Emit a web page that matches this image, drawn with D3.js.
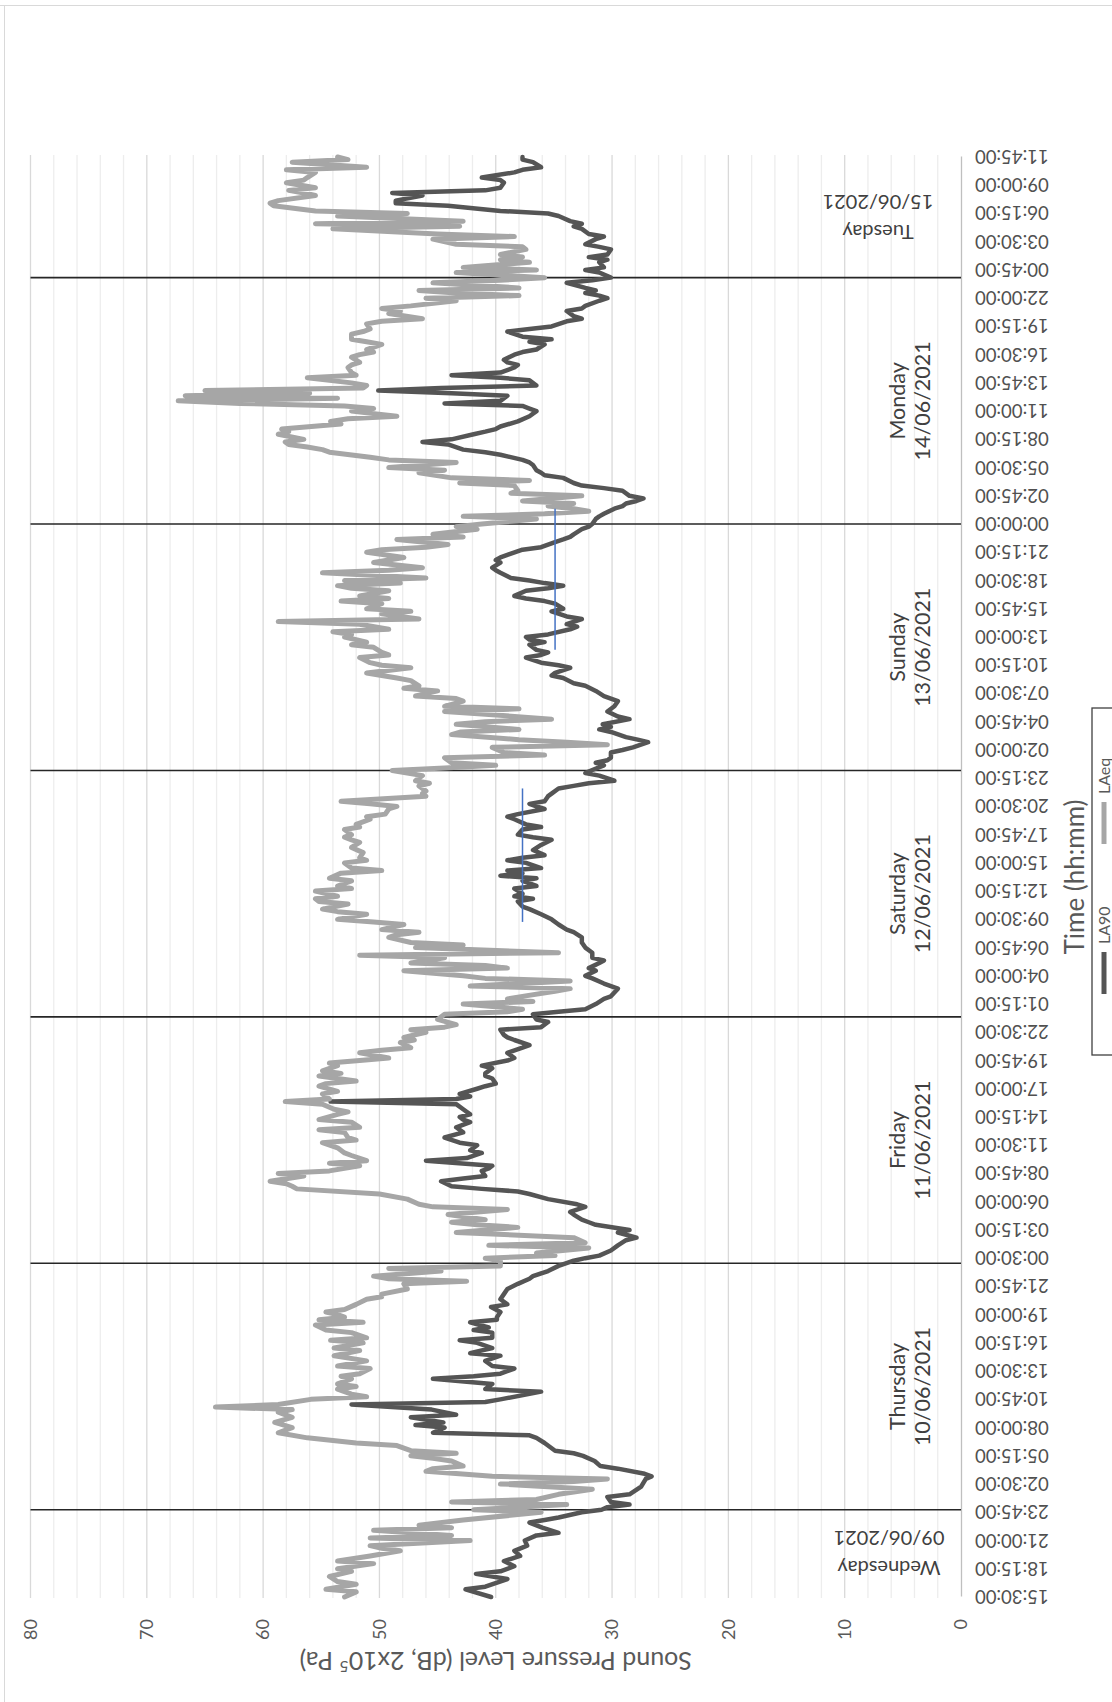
<!DOCTYPE html>
<html>
<head>
<meta charset="utf-8">
<script src="https://cdn.jsdelivr.net/npm/d3@7"></script>
<style>
  body { margin: 0; background: #fff; }
  svg { display: block; }
  text { font-family: Lato, "Liberation Sans", sans-serif; }
</style>
</head>
<body>
<div id="chart"></div>
<script>
//
// Sound level log, 09/06/2021 15:30 to 15/06/2021 11:45, one reading every 15 minutes.
// Readings are [step, dB] where step = number of 15 minute steps from the first reading.
//
const timeLabels = [
  "15:30:00","18:15:00","21:00:00","23:45:00","02:30:00","05:15:00","08:00:00","10:45:00",
  "13:30:00","16:15:00","19:00:00","21:45:00","00:30:00","03:15:00","06:00:00","08:45:00",
  "11:30:00","14:15:00","17:00:00","19:45:00","22:30:00","01:15:00","04:00:00","06:45:00",
  "09:30:00","12:15:00","15:00:00","17:45:00","20:30:00","23:15:00","02:00:00","04:45:00",
  "07:30:00","10:15:00","13:00:00","15:45:00","18:30:00","21:15:00","00:00:00","02:45:00",
  "05:30:00","08:15:00","11:00:00","13:45:00","16:30:00","19:15:00","22:00:00","00:45:00",
  "03:30:00","06:15:00","09:00:00","11:45:00"
]
const labelEvery = 11

// midnights, as steps
const midnights = [34, 130, 226, 322, 418, 514]

const dayNames = ["Wednesday", "Thursday", "Friday", "Saturday", "Sunday", "Monday", "Tuesday"]
const dayDates = ["09/06/2021", "10/06/2021", "11/06/2021", "12/06/2021", "13/06/2021", "14/06/2021", "15/06/2021"]

const la90 = [
  [0,40.4],[3,42.6],[4,40.9],[7,39],[9,41.7],[10,39.6],[12,38.4],[14,39.3],[16,37.9],[18,38.4],[20,37.3],[22,37.5],
  [24,36.5],[25,34.6],[27,36],[29,37.1],[30,35.8],[31,34.6],[33,32.6],[34,30.9],[35,30.4],[36,28.5],[37,30.1],[39,30.4],
  [40,28.5],[43,27.5],[46,27.1],[47,26.6],[48,27.2],[50,29.5],[51,31],[53,31.5],[55,32.5],[56,33.3],[57,34.9],[60,35.8],
  [62,36.5],[63,37.1],[64,45.4],[66,44.4],[67,46.9],[68,44.5],[70,47.3],[71,43.4],[73,45.5],[75,52.4],[76,40.9],[77,39.6],
  [80,36.1],[81,40.9],[83,40.3],[85,45.4],[86,41.9],[87,39.6],[89,38.4],[90,40.3],[92,40.9],[94,39.6],[95,42.2],[97,40.3],
  [99,41.6],[100,43.1],[101,40.3],[103,40.3],[104,41.9],[105,40.6],[107,42.2],[108,39.9],[109,39.9],[111,39.6],[113,40.4],
  [114,39],[116,39.6],[118,39.3],[120,39],[122,38.1],[124,37.1],[125,36.8],[127,35.5],[129,34.6],[131,33.3],[132,32.3],
  [133,31.1],[135,30.1],[137,29.5],[139,28.8],[140,27.9],[142,29.5],[143,28.5],[145,31.4],[146,32],[147,32.6],[149,33.3],
  [150,33.6],[152,32.3],[153,33],[155,35.5],[157,37.1],[158,38.1],[159,41.2],[160,43.8],[162,44.7],[163,42.8],[164,40.9],
  [166,41.2],[167,40.6],[168,40.3],[170,46],[171,42.5],[173,41.2],[174,42.2],[176,41.6],[177,43.1],[179,44.4],[181,42.8],
  [183,43.4],[185,42.2],[186,42.8],[187,43.1],[188,42.2],[190,42.8],[192,43.4],[193,54.2],[194,43.4],[195,42.2],[196,43.1],
  [198,41.6],[199,40.9],[200,40],[202,40.3],[203,40.9],[204,40.9],[206,40.3],[207,41.2],[209,39],[210,38.4],[212,39],
  [214,37.7],[215,37.1],[217,38.4],[218,39],[219,39.3],[221,39.6],[222,36.1],[224,35.5],[225,36.5],[227,36.8],[228,34.6],
  [229,32.3],[231,31.4],[233,30.7],[234,30.1],[237,29.5],[239,30.7],[241,31.7],[242,32.3],[244,31.4],[245,32],[247,31.1],
  [248,30.7],[249,31.7],[251,31.7],[253,32.3],[255,32.6],[257,32.6],[259,33.3],[260,33.9],[262,34.6],[264,35.2],[266,36.1],
  [268,37.1],[269,37.7],[271,38.1],[272,36.8],[273,38.4],[274,37.7],[276,38.4],[277,36.5],[279,37.7],[280,36.5],[281,39.6],
  [282,37.7],[283,39],[284,36.1],[286,37.4],[287,39],[288,37.7],[289,35.8],[291,36.8],[293,36.1],[295,35.2],[296,36.8],
  [297,38.1],[299,37.7],[300,36.1],[301,37.4],[303,38.4],[304,39],[305,38.1],[307,35.8],[308,36.5],[309,37.1],[310,35.8],
  [312,35.5],[313,35.2],[315,34.6],[316,33.3],[317,32],[318,29.8],[320,31.1],[321,32.3],[322,31.8],[324,30.7],[325,31.4],
  [326,30.4],[327,30.1],[329,30.1],[330,29.1],[331,28.2],[333,26.9],[334,27.8],[335,28.8],[337,30.1],[338,31.1],[339,30.1],
  [340,30.8],[342,28.5],[343,29.5],[345,30.4],[347,29.8],[349,29.5],[350,30.1],[351,30.7],[353,31.4],[355,32.3],[356,33.3],
  [358,34.2],[359,35.2],[360,34.9],[362,33.6],[363,34.6],[364,36.1],[366,37.4],[367,36.1],[368,35.5],[369,36.5],[371,37.1],
  [372,35.8],[373,37.1],[374,37.4],[375,35.5],[377,33.6],[378,33],[379,33.9],[381,32.6],[382,33.9],[384,35.2],[385,34.2],
  [387,34.9],[388,35.8],[389,37.4],[390,38.4],[392,37.4],[393,35.5],[394,34.2],[395,35.8],[396,37.1],[397,38.7],[399,39.6],
  [400,40],[401,40.3],[403,39.6],[404,40],[405,39.6],[406,39],[408,37.7],[409,36.1],[411,34.9],[412,34.2],[413,33.6],
  [414,33.3],[416,32.6],[417,32],[418,31.7],[420,31.4],[421,31.1],[422,30.7],[424,29.8],[425,29.1],[426,28.8],[427,27.9],
  [428,27.3],[429,28.5],[431,29.1],[432,30.7],[433,32.6],[434,33.3],[436,34.2],[437,35.8],[438,36.1],[439,36.5],[441,36.8],
  [442,37.1],[443,37.7],[445,39.6],[446,40.9],[447,42.8],[449,44.1],[450,46.3],[451,43.8],[453,41.9],[454,40.9],[455,40],
  [456,39.6],[458,38.1],[460,37.1],[462,36.5],[463,37.1],[464,37.7],[465,44.4],[466,39.6],[468,39],[469,43.8],[470,50.1],
  [471,44.7],[472,36.5],[474,37.1],[475,39.6],[476,43.8],[477,39.6],[479,38.4],[480,38.1],[481,39],[482,39.3],[484,38.4],
  [485,37.7],[486,36.5],[488,35.8],[489,37.1],[490,35.2],[491,37.7],[493,39],[494,37.1],[495,35.2],[497,33.9],[498,32.6],
  [499,33.3],[501,33.9],[502,32.6],[503,32.3],[505,31.1],[506,30.4],[507,31.1],[508,32.3],[509,31.4],[510,32.3],[512,33.9],
  [513,31.7],[514,30.1],[516,31.1],[517,32.3],[518,30.7],[520,31.1],[521,30.4],[522,32],[523,30.4],[525,30.1],[526,31.1],
  [527,32.3],[529,31.4],[530,30.7],[531,32],[533,32.6],[534,33.3],[535,32.6],[536,33.6],[538,34.6],[539,35.5],[540,39.6],
  [542,44.1],[543,48.6],[544,48.6],[546,46.3],[547,48.9],[548,40.9],[549,39.6],[551,39.3],[552,39.6],[553,41.2],[555,38.4],
  [556,37.7],[557,36.1],[559,36.8],[560,37.7],[561,37.7]
]

const laeq = [
  [0,53],[2,52],[3,54.6],[5,52],[6,53.6],[8,54.3],[10,52.4],[11,53.6],[13,50.5],[14,53.6],[16,50.8],[18,48.2],[19,49.8],
  [20,50.8],[22,42.2],[23,50.8],[24,43.8],[26,50.5],[27,43.8],[28,46.6],[30,42.8],[33,36.1],[34,41.9],[36,33.9],[37,43.8],
  [38,36.5],[40,34.6],[42,31.7],[44,39.6],[45,33.3],[46,30.4],[47,40.3],[49,46],[50,45.4],[51,42.8],[53,43.8],[54,45.4],
  [55,47.3],[56,43.4],[57,47.3],[59,48.5],[60,52],[62,56.2],[64,58.7],[66,57.5],[68,59],[70,57.5],[72,58.7],[73,57.5],
  [74,64.1],[75,58.7],[77,55.9],[78,51.1],[79,52.4],[81,53.6],[82,52],[83,53.6],[85,52.4],[86,53.3],[87,51.7],[89,50.8],
  [90,53.6],[92,51.1],[94,53.9],[96,51.7],[97,53.9],[99,51.4],[100,54.2],[101,51.1],[103,52.4],[104,54.6],[106,55.5],
  [107,51.4],[108,55.2],[109,53],[110,53.6],[111,54.6],[112,53],[114,52],[116,51.1],[117,49.8],[118,49.8],[120,47.6],
  [122,47.9],[123,42.5],[124,49.2],[125,50.5],[127,44.7],[128,49.2],[129,39.6],[131,39.6],[132,40.9],[133,34.9],[134,36.5],
  [136,32],[137,40.6],[138,32.3],[140,33.3],[142,43.4],[144,38.1],[145,41.6],[146,43.8],[147,40.9],[149,44.1],[151,39],
  [152,45.4],[153,46.6],[155,47.6],[157,50],[159,57.1],[160,57.5],[161,58],[162,59.4],[164,56.5],[165,58.7],[166,54.3],
  [168,51.7],[169,54.3],[170,51.1],[172,52.4],[173,53],[175,53.6],[177,54.9],[178,52],[179,52.7],[181,53],[182,55.2],
  [183,51.7],[185,52.4],[186,55.2],[188,53.6],[189,52.7],[190,53.9],[192,54.9],[193,58.1],[194,54.3],[196,54.9],[197,53.6],
  [199,55.2],[200,54.6],[201,52],[203,55.2],[204,53.3],[205,54.9],[207,53.6],[208,54.3],[209,51.7],[210,49.2],[212,51.7],
  [213,49.8],[214,47.3],[216,48.2],[217,47],[218,47.9],[220,46],[221,47.3],[222,44.4],[223,43.4],[225,45],[227,44.4],
  [228,39],[229,37.7],[231,42.8],[232,36.8],[233,39],[234,37.7],[236,34.9],[237,33.6],[238,42.2],[240,33.6],[241,40.9],
  [242,42.8],[244,47.9],[245,39],[246,40.9],[247,47.3],[249,44.4],[250,51.7],[251,34.6],[253,46.9],[254,42.8],[255,47.3],
  [257,49.2],[258,48.5],[259,46.6],[260,49.8],[262,47.9],[263,50.5],[264,53.6],[266,51.1],[267,53.6],[268,54.9],[270,52.7],
  [271,55.2],[272,55.5],[273,53.6],[275,55.5],[276,52.4],[277,53.6],[279,52.4],[280,54.3],[282,53.3],[283,49.8],[284,52.4],
  [286,53],[287,51.1],[288,51.7],[290,51.4],[292,52.4],[294,51.7],[295,52.4],[296,53],[297,52.4],[299,53],[300,51.7],
  [301,52],[303,50.8],[304,51.1],[305,49.5],[307,49.2],[308,48.5],[309,50.8],[310,53.3],[312,46],[313,46.3],[314,46],
  [316,46.6],[317,45.7],[318,46.9],[320,46.3],[321,47.6],[322,48.9],[323,44.4],[324,40],[325,43.8],[327,44.4],[328,35.8],
  [329,39.3],[331,40.3],[332,30.4],[333,33.9],[334,38],[336,43.8],[337,43],[338,38],[340,43.4],[341,40.9],[342,35.2],
  [344,41.2],[345,44.4],[346,38],[347,44.4],[349,42.8],[350,43.4],[351,46.9],[353,45],[354,47.9],[355,46.6],[357,47.3],
  [358,48.5],[359,49.8],[360,51.1],[362,47.3],[363,49.8],[364,50.8],[366,51.7],[367,49.2],[368,49.8],[370,50.5],[371,52.4],
  [372,51.1],[374,53],[375,52.4],[376,54],[377,49.2],[379,51.7],[380,58.7],[381,46.6],[383,49.8],[384,47.3],[385,51.1],
  [387,49.8],[388,53.3],[389,49.2],[390,51.7],[392,49.2],[393,52.4],[394,53.6],[395,48.2],[396,53],[397,46],[399,54.9],
  [400,49.2],[401,46.3],[403,50.5],[404,49.2],[405,47.9],[407,51.1],[408,49.8],[409,46],[410,44.1],[412,48.5],[413,42.8],
  [414,45.4],[416,41.6],[417,43.4],[418,41.2],[420,36.5],[421,42.8],[422,35.8],[423,32],[424,33.3],[425,35.5],[426,33.3],
  [427,37.7],[429,32.6],[430,38.7],[431,38.1],[433,38.4],[434,43.1],[435,37.1],[436,43.8],[438,46.6],[439,44.4],[440,49.2],
  [442,43.4],[443,49.2],[444,50.8],[446,54.3],[447,54.9],[448,56.2],[449,57.8],[450,58.1],[451,56.5],[453,58.7],[454,57.8],
  [455,58.4],[457,53.3],[458,54.2],[459,52.7],[460,48.5],[462,52.4],[463,50.5],[464,53],[465,62],[466,67.3],[467,53.6],
  [468,66.7],[469,56],[470,65],[471,51.4],[472,51.1],[473,52.4],[475,56.2],[476,52],[477,52.4],[479,52.7],[480,52.4],
  [481,51.7],[483,52.4],[484,51.7],[485,50.5],[486,51.1],[488,49.8],[489,51.1],[490,52.4],[492,52.4],[493,51.4],[494,50.8],
  [496,51.1],[497,49.8],[498,46.3],[500,49.2],[501,48.2],[502,49.8],[503,47.3],[505,43.4],[506,46],[507,38],[508,43.4],
  [509,46.6],[510,38],[512,45.4],[513,39.6],[514,35.8],[516,43.4],[517,36.5],[518,42.8],[520,37.1],[521,39.6],[522,37.7],
  [523,39.6],[525,37.4],[526,37.7],[527,43.4],[529,45.4],[530,38.4],[531,45],[533,54],[534,43.1],[535,55.5],[536,42.8],
  [538,53.6],[539,47.6],[540,55.5],[542,59.1],[543,59.4],[544,58.7],[546,55.5],[547,56.5],[548,57.8],[549,55.5],[551,58],
  [552,56.5],[553,56.2],[555,55.5],[556,58],[557,51.1],[559,57.5],[560,52.7],[561,53.6]
]

// thin blue marker lines: [from step, to step, dB]
const markerLines = [[263, 315, 37.7], [369, 424, 34.9]]

const W = 1112
const H = 1702
const lastStep = 561

//
// The chart is laid out in landscape (H wide, W tall) and then turned
// a quarter turn anticlockwise so that time runs up the page.
//
const svg = d3.select("#chart")
  .append("svg")
    .attr("width", W)
    .attr("height", H)

svg.append("rect").attr("width", W).attr("height", H).attr("fill", "#fff")

// chart area border (only the top and left edges are on the page)
svg.append("path")
  .attr("d", `M0,5.5H${W}M4.5,5.5V${H}`)
  .attr("fill", "none")
  .attr("stroke", "#d9d9d9")

const g = svg.append("g")
  .attr("transform", `translate(0,${H}) rotate(-90)`)

const x = d3.scaleLinear().domain([0, lastStep]).range([105, 1545])
const y = d3.scaleLinear().domain([0, 80]).range([961, 30.5])

// gridlines, minor every 2 dB and major every 10 dB
g.append("g")
  .selectAll("line")
  .data(d3.range(2, 81, 2))
  .join("line")
    .attr("x1", x(0) - 1)
    .attr("x2", x(lastStep) + 2)
    .attr("y1", d => y(d))
    .attr("y2", d => y(d))
    .attr("stroke", d => d % 10 === 0 ? "#d9d9d9" : "#ededed")
    .attr("stroke-width", 1.3)

// value axis labels
const yAxis = g.append("g")
  .attr("transform", `translate(${x(0)},0)`)
  .call(d3.axisLeft(y).tickValues(d3.range(0, 81, 10)).tickSize(0).tickPadding(22))
yAxis.select(".domain").remove()
yAxis.selectAll("text")
  .attr("fill", "#595959")
  .style("font-size", "18px")

// time axis
const xAxis = g.append("g")
  .attr("transform", `translate(0,${y(0)})`)
  .call(d3.axisBottom(x)
    .tickValues(d3.range(0, lastStep + 1, labelEvery))
    .tickFormat((d, i) => timeLabels[i])
    .tickSize(0))
xAxis.select(".domain").attr("stroke", "#bfbfbf").attr("stroke-width", 1.3)
xAxis.selectAll("text")
  .attr("transform", "rotate(-90)")
  .attr("x", -14)
  .attr("y", 0)
  .attr("dy", "0.35em")
  .attr("fill", "#505050")
  .style("text-anchor", "end")
  .style("font-size", "18.5px")

// midnight separators
g.append("g")
  .selectAll("line")
  .data(midnights)
  .join("line")
    .attr("x1", d => x(d))
    .attr("x2", d => x(d))
    .attr("y1", y(80))
    .attr("y2", y(0))
    .attr("stroke", "#262626")
    .attr("stroke-width", 1.6)

// series
const line = d3.line()
  .x(d => x(d[0]))
  .y(d => y(d[1]))
  .curve(d3.curveLinear)

g.append("path")
  .datum(la90)
  .attr("d", line)
  .attr("fill", "none")
  .attr("stroke", "#555555")
  .attr("stroke-width", 4.5)
  .attr("stroke-linejoin", "round")
  .attr("stroke-linecap", "round")

g.append("path")
  .datum(laeq)
  .attr("d", line)
  .attr("fill", "none")
  .attr("stroke", "#a6a6a6")
  .attr("stroke-width", 5)
  .attr("stroke-linejoin", "round")
  .attr("stroke-linecap", "round")

g.append("g")
  .selectAll("line")
  .data(markerLines)
  .join("line")
    .attr("x1", d => x(d[0]))
    .attr("x2", d => x(d[1]))
    .attr("y1", d => y(d[2]))
    .attr("y2", d => y(d[2]))
    .attr("stroke", "#4472c4")
    .attr("stroke-width", 1.5)

// day labels, centred on each (part) day
const dayBounds = [0, ...midnights, lastStep]
const days = dayNames.map((name, i) => ({
  name: name,
  date: dayDates[i],
  mid: (dayBounds[i] + dayBounds[i + 1]) / 2,
  partial: i === 0 || i === dayNames.length - 1
}))

const dayText = g.append("g")
  .selectAll("text")
  .data(days)
  .join("text")
    .attr("fill", "#404040")
    .style("font-size", d => d.partial ? "20px" : "21.5px")
    .attr("text-anchor", "middle")
    .attr("transform", d => d.partial
      ? `translate(${x(d.mid)},${d.name === "Tuesday" ? 878 : 889}) rotate(-90)`
      : `translate(${x(d.mid)},0)`)
dayText.append("tspan")
  .attr("x", 0)
  .attr("y", d => d.partial ? -8 : 905)
  .text(d => d.name)
dayText.append("tspan")
  .attr("x", 0)
  .attr("y", d => d.partial ? 22 : 930)
  .text(d => d.date)

// axis titles
const yTitle = g.append("text")
  .attr("transform", `translate(41,${(y(0) + y(80)) / 2}) rotate(-90)`)
  .attr("text-anchor", "middle")
  .attr("dy", "0.35em")
  .attr("fill", "#595959")
  .style("font-size", "25px")
yTitle.append("tspan").text("Sound Pressure Level (dB, 2x10")
yTitle.append("tspan").attr("baseline-shift", "super").style("font-size", "16px").text("5")
yTitle.append("tspan").text(" Pa)")

g.append("text")
  .attr("x", (x(0) + x(lastStep)) / 2)
  .attr("y", 1084)
  .attr("text-anchor", "middle")
  .attr("fill", "#595959")
  .style("font-size", "26px")
  .text("Time (hh:mm)")

// legend
const legend = g.append("g")
legend.append("rect")
  .attr("x", 647).attr("y", 1092)
  .attr("width", 347).attr("height", 44)
  .attr("fill", "#fff")
  .attr("stroke", "#404040")
  .attr("stroke-width", 1.3)
const legendItems = [
  { name: "LA90", color: "#555555", x: 708 },
  { name: "LAeq", color: "#a6a6a6", x: 858 }
]
legendItems.forEach(d => {
  legend.append("line")
    .attr("x1", d.x).attr("x2", d.x + 42)
    .attr("y1", 1104).attr("y2", 1104)
    .attr("stroke", d.color)
    .attr("stroke-width", 5)
  legend.append("text")
    .attr("x", d.x + 50).attr("y", 1104)
    .attr("dy", "0.35em")
    .attr("fill", "#595959")
    .style("font-size", "16px")
    .text(d.name)
})
</script>
</body>
</html>
